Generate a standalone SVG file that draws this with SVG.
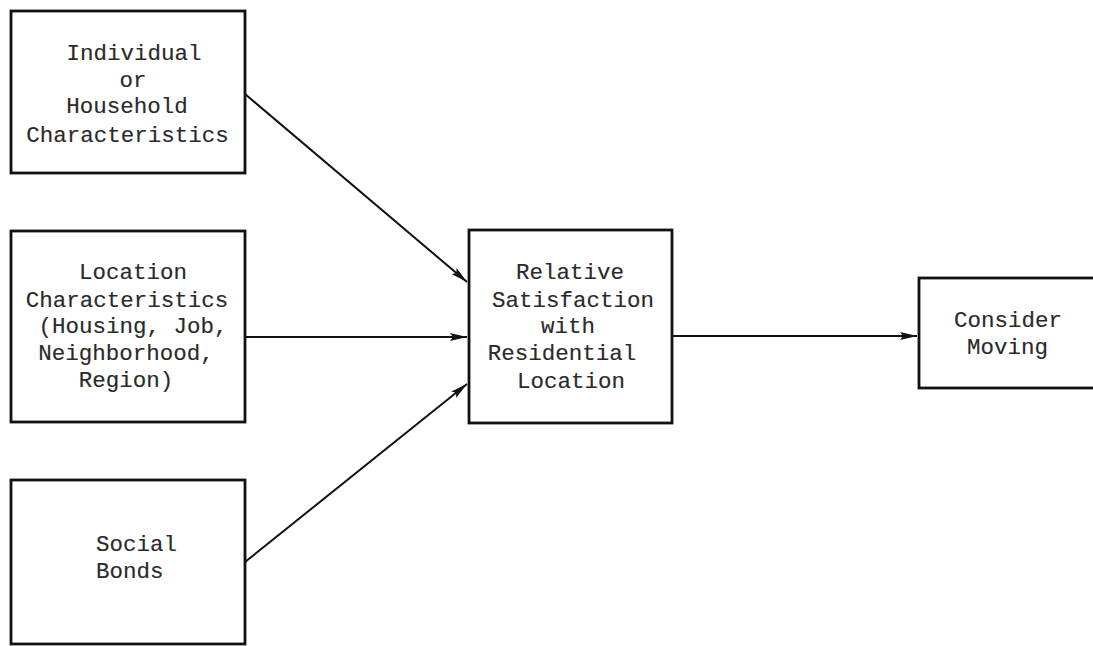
<svg xmlns="http://www.w3.org/2000/svg" width="1093" height="646" viewBox="0 0 1093 646">
<defs>
<marker id="arr" viewBox="0 0 17 8" refX="17" refY="4" markerWidth="17" markerHeight="8" markerUnits="userSpaceOnUse" orient="auto">
<path d="M0,0 L17,4 L0,8 L3,4 z" fill="#111"/>
</marker>
</defs>
<style>
.box{fill:#fff;stroke:#111;stroke-width:2.8}
.t{font-family:"Liberation Mono","Courier New",monospace;font-size:22.5px;fill:#2a2a2a;stroke:#2a2a2a;stroke-width:0.15}
.c{text-anchor:middle}
.ln{stroke:#111;stroke-width:2;fill:none;marker-end:url(#arr)}
</style>
<rect width="1093" height="646" fill="#fff"/>
<g id="connectors">
<line class="ln" x1="245" y1="94" x2="467" y2="282"/>
<line class="ln" x1="245" y1="337" x2="467" y2="337"/>
<line class="ln" x1="245" y1="562" x2="467" y2="384"/>
<line class="ln" x1="672" y1="336" x2="917" y2="336"/>
</g>
<g id="n1">
<rect class="box" x="11" y="11" width="234" height="162"/>
<text class="t c" x="134" y="60">Individual</text>
<text class="t c" x="133" y="87">or</text>
<text class="t c" x="127" y="113">Household</text>
<text class="t c" x="127.5" y="142">Characteristics</text>
</g>
<g id="n2">
<rect class="box" x="11" y="231" width="234" height="191"/>
<text class="t c" x="133" y="279">Location</text>
<text class="t c" x="127" y="307">Characteristics</text>
<text class="t c" x="133" y="333">(Housing, Job,</text>
<text class="t c" x="126" y="360">Neighborhood,</text>
<text class="t c" x="126" y="387">Region)</text>
</g>
<g id="n3">
<rect class="box" x="11" y="480" width="234" height="164"/>
<text class="t" x="96" y="551">Social</text>
<text class="t" x="96" y="578">Bonds</text>
</g>
<g id="n4">
<rect class="box" x="469" y="230" width="203" height="193"/>
<text class="t c" x="570" y="279">Relative</text>
<text class="t c" x="573" y="307">Satisfaction</text>
<text class="t c" x="568" y="333">with</text>
<text class="t c" x="562" y="360">Residential</text>
<text class="t c" x="571" y="388">Location</text>
</g>
<g id="n5">
<rect class="box" x="919" y="278" width="190" height="110"/>
<text class="t" x="954" y="327">Consider</text>
<text class="t" x="967" y="354">Moving</text>
</g>
</svg>
